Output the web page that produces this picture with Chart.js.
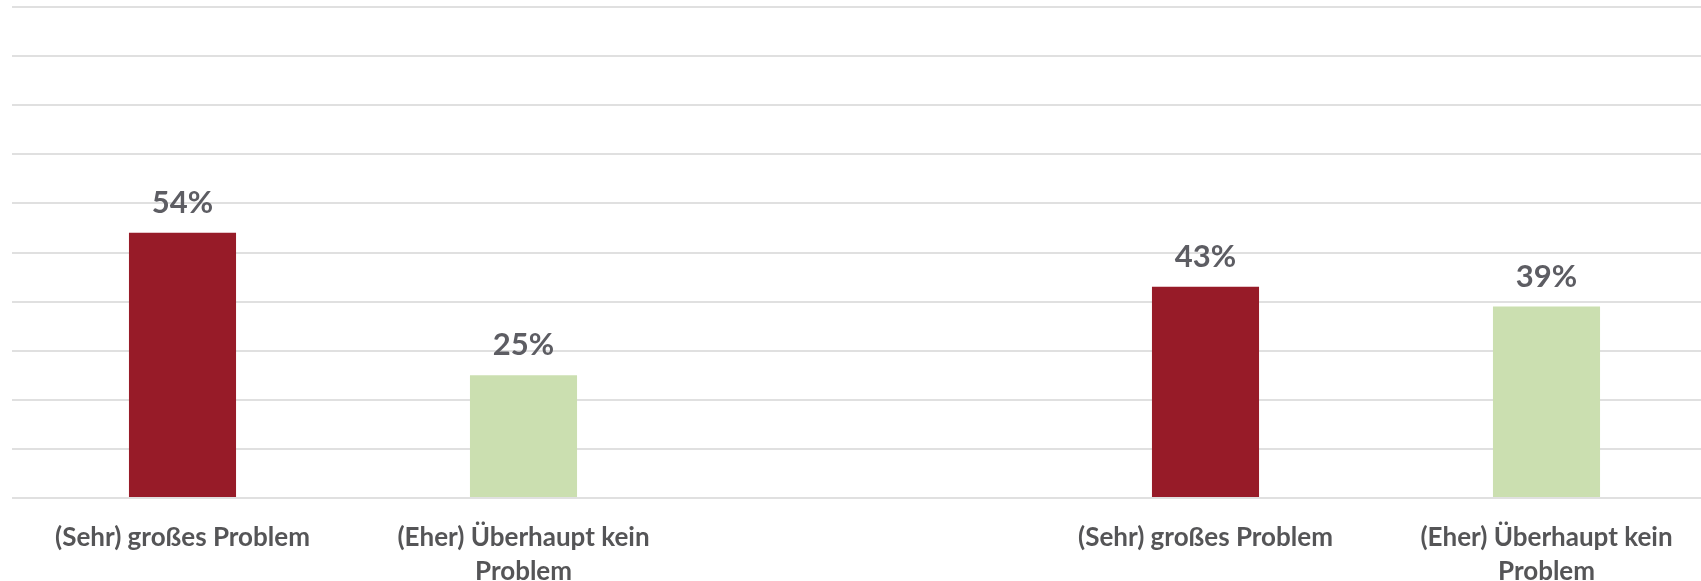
<!DOCTYPE html>
<html><head><meta charset="utf-8">
<script src="https://cdn.jsdelivr.net/npm/chart.js@4/dist/chart.umd.min.js"></script>
<style>html,body{margin:0;padding:0;background:#fff;overflow:hidden;width:1701px;height:581px}#w{width:1717px;height:581px}</style>
</head><body><div id="w"><canvas id="c" width="1717" height="581"></canvas></div>
<script>
const categories = [["(Sehr) großes Problem"], ["(Eher) Überhaupt kein", "Problem"], [""], ["(Sehr) großes Problem"], ["(Eher) Überhaupt kein", "Problem"]];
const values = [54, 25, null, 43, 39];
const barColors = ["#971b28", "#cbdfb0", "#ffffff", "#971b28", "#cbdfb0"];
const yTicks = { min: 0, max: 100, step: 10 };
const FONT = "'Lato', sans-serif";

const valueLabels = {
  id: 'valueLabels',
  afterDatasetsDraw(chart) {
    const ctx = chart.ctx;
    const meta = chart.getDatasetMeta(0);
    ctx.save();
    ctx.font = "bold 31px " + FONT;
    ctx.fillStyle = "#5d5d63";
    ctx.textAlign = "center";
    ctx.textBaseline = "alphabetic";
    meta.data.forEach((bar, i) => {
      if (values[i] == null) return;
      ctx.fillText(values[i] + "%", bar.x, bar.y - 20);
    });
    ctx.restore();
  }
};

new Chart(document.getElementById('c'), {
  type: 'bar',
  data: { labels: categories, datasets: [{ data: values, backgroundColor: barColors, borderWidth: 0, categoryPercentage: 1, barPercentage: 0.314 }] },
  options: {
    responsive: false, animation: false,
    layout: { padding: { left: 12, right: 0, top: 7, bottom: 0 } },
    plugins: { legend: { display: false }, tooltip: { enabled: false } },
    scales: {
      x: {
        grid: { display: false }, border: { display: false },
        ticks: { color: "#555557", font: { family: FONT, size: 26, weight: 'bold', lineHeight: 1.3 }, padding: 15, maxRotation: 0, autoSkip: false },
        afterFit(s) { s.height = 83; }
      },
      y: {
        display: true, min: yTicks.min, max: yTicks.max,
        ticks: { display: false, stepSize: yTicks.step },
        grid: { color: "#e0e0e0", lineWidth: 2, drawTicks: false },
        border: { display: false },
        afterFit(s) { s.width = 0; }
      }
    }
  },
  plugins: [valueLabels]
});
</script></body></html>
